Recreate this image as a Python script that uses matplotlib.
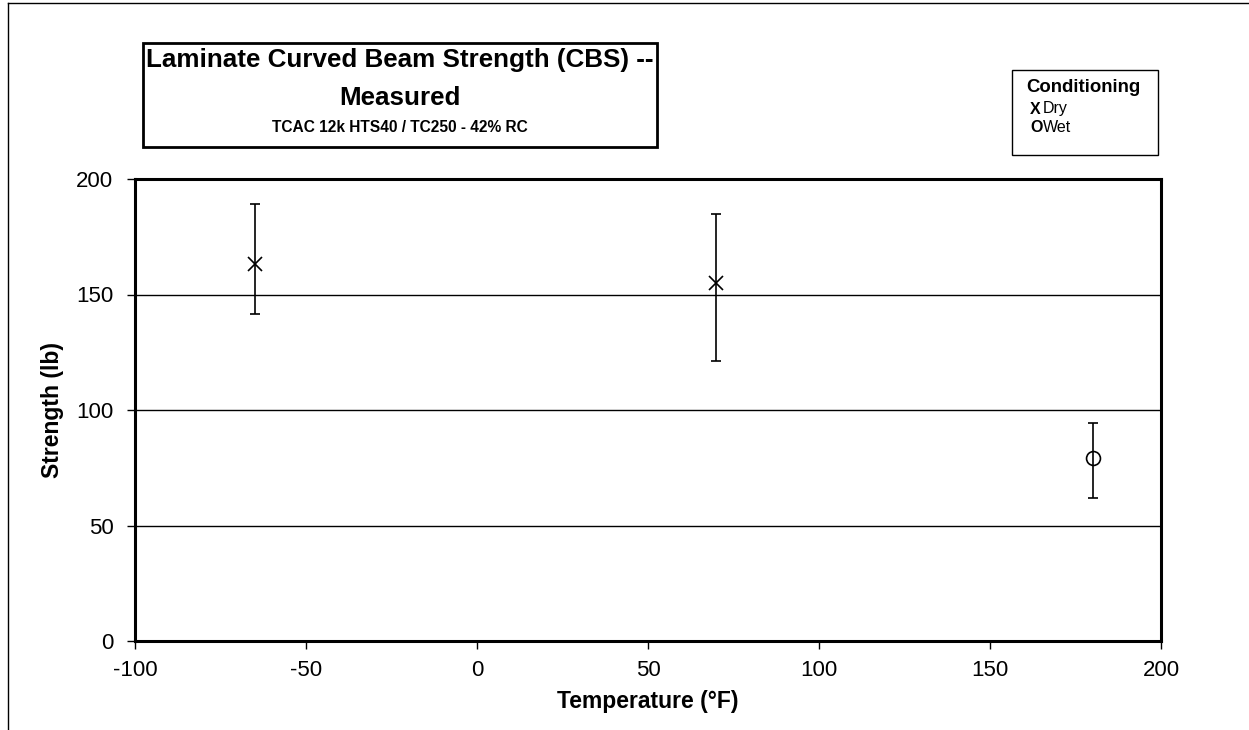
import matplotlib.pyplot as plt
import matplotlib.patches as patches

plt.rcParams['font.family'] = ['Liberation Sans', 'DejaVu Sans']

# Data
dry_temp = [-65, 70]
dry_strength = [163.3, 155.0]
dry_low = [141.5, 121.2]
dry_high = [189.0, 184.8]

wet_temp = [180]
wet_strength = [79.2]
wet_low = [61.9]
wet_high = [94.4]

x_ticks = [-100, -50, 0, 50, 100, 150, 200]
y_ticks = [0, 50, 100, 150, 200]

fig = plt.figure(figsize=(12.49, 7.30), dpi=100)
W, H = 1249, 730

# Outer chart frame (left and top edges visible)
fig.add_artist(plt.Line2D([8 / W, 8 / W], [0, 1 - 3 / H], color='black', lw=1.0))
fig.add_artist(plt.Line2D([8 / W, 1], [1 - 3 / H, 1 - 3 / H], color='black', lw=1.0))

ax = fig.add_axes([135 / W, 1 - 641 / H, (1161 - 135) / W, (641 - 179) / H])

def errs(vals, low, high):
    return [[v - l for v, l in zip(vals, low)], [h - v for v, h in zip(vals, high)]]

ax.errorbar(dry_temp, dry_strength, yerr=errs(dry_strength, dry_low, dry_high),
            fmt='x', color='black', ms=10, mew=1.2, elinewidth=1.2, capsize=3.7, capthick=1.2)
ax.errorbar(wet_temp, wet_strength, yerr=errs(wet_strength, wet_low, wet_high),
            fmt='o', color='black', mfc='none', ms=10, mew=1.2, elinewidth=1.2,
            capsize=3.7, capthick=1.2)

ax.set_xlim(-100, 200)
ax.set_ylim(0, 200)
ax.set_xticks(x_ticks)
ax.set_yticks(y_ticks)
ax.set_xticklabels([str(t) for t in x_ticks])
ax.yaxis.grid(True, color='black', lw=1.0)
ax.set_axisbelow(True)
for s in ax.spines.values():
    s.set_linewidth(2.2)
ax.tick_params(axis='both', direction='out', length=5.5, width=1.0, labelsize=16)
ax.tick_params(axis='y', pad=10)
ax.tick_params(axis='x', pad=8)

ax.set_xlabel('Temperature (°F)', fontsize=16.5, fontweight='bold', labelpad=7)
ax.set_ylabel('Strength (lb)', fontsize=16.5, fontweight='bold', labelpad=9)

# Title box
fig.add_artist(patches.Rectangle((143 / W, 1 - 147 / H), (657 - 143) / W, (147 - 43) / H,
                                 transform=fig.transFigure, fill=False, ec='black', lw=2.0))
fig.text(400 / W, 1 - 60 / H, 'Laminate Curved Beam Strength (CBS) --', ha='center', va='center',
         fontsize=18.7, fontweight='bold')
fig.text(400 / W, 1 - 98 / H, 'Measured', ha='center', va='center', fontsize=18.7,
         fontweight='bold')
fig.text(400 / W, 1 - 128 / H, 'TCAC 12k HTS40 / TC250 - 42% RC', ha='center', va='center',
         fontsize=11.2, fontweight='bold')

# Legend box
fig.add_artist(patches.Rectangle((1012 / W, 1 - 155 / H), (1158 - 1012) / W, (155 - 70) / H,
                                 transform=fig.transFigure, fill=False, ec='black', lw=1.0))
fig.text(1083 / W, 1 - 88 / H, 'Conditioning', ha='center', va='center', fontsize=13.4,
         fontweight='bold')
fig.text(1030 / W, 1 - 109 / H, 'X', ha='left', va='center', fontsize=11.5, fontweight='bold')
fig.text(1043 / W, 1 - 109 / H, 'Dry', ha='left', va='center', fontsize=11.5)
fig.text(1030 / W, 1 - 127 / H, 'O', ha='left', va='center', fontsize=11.5, fontweight='bold')
fig.text(1043 / W, 1 - 127 / H, 'Wet', ha='left', va='center', fontsize=11.5)

fig.savefig('out.png', dpi=100)
